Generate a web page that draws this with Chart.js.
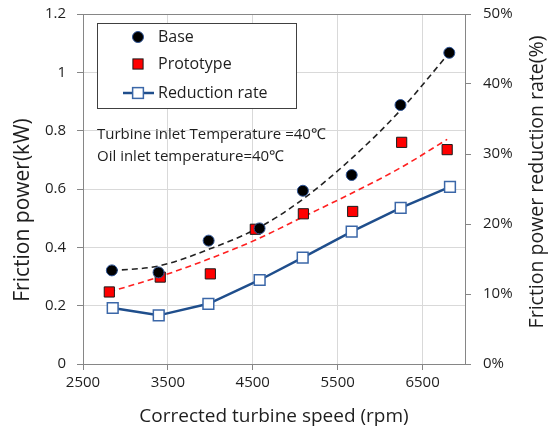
<!DOCTYPE html>
<html><head><meta charset="utf-8">
<script src="https://cdn.jsdelivr.net/npm/chart.js@4"></script>
<style>html,body{margin:0;padding:0;background:#fff}#wrap{width:551px;height:430px;position:relative}</style>
</head><body><div id="wrap"><canvas id="c"></canvas></div>
<script>
// ---- data ----
const baseSpeed     = [2840, 3390, 3980, 4580, 5090, 5665, 6240, 6815];
const basePower     = [0.321, 0.314, 0.423, 0.465, 0.594, 0.648, 0.888, 1.067];
const protoSpeed    = [2810, 3410, 4000, 4530, 5096, 5677, 6254, 6790];
const protoPower    = [0.247, 0.298, 0.309, 0.462, 0.515, 0.523, 0.760, 0.735];
const rateSpeed     = [2850, 3392, 3977, 4581, 5088, 5665, 6242, 6823];
const reductionRate = [8.0, 6.95, 8.6, 12.0, 15.2, 18.9, 22.3, 25.3];
const baseTrend     = [0.320, 0.336, 0.393, 0.469, 0.565, 0.705, 0.870, 1.067]; // dashed line, read at baseSpeed
const protoTrend    = [0.247, 0.300, 0.362, 0.425, 0.505, 0.587, 0.675, 0.770]; // dashed line, read at protoSpeed
const xTicks    = [2500, 3500, 4500, 5500, 6500];
const yTicks    = [0, 0.2, 0.4, 0.6, 0.8, 1, 1.2];
const rateTicks = [0, 10, 20, 30, 40, 50];
const seriesNames = ['Base', 'Prototype', 'Reduction rate'];
const notes = ['Turbine inlet Temperature =40\u2103', 'Oil inlet temperature=40\u2103'];
const xTitle = 'Corrected turbine speed (rpm)';
const yTitle = 'Friction power(kW)';
const y1Title = 'Friction power reduction rate(%)';

const FONT = "'Open Sans', sans-serif";
const TXT = '#1e1e1e';
const AXIS = '#868686';
const GRID = '#d9d9d9';
const pts = (xs, ys) => xs.map((x, i) => ({x, y: ys[i]}));

const decor = {
  id: 'decor',
  afterDraw(chart) {
    const ctx = chart.ctx, a = chart.chartArea;
    ctx.save();
    ctx.fillStyle = TXT;
    ctx.textBaseline = 'middle';
    // axis titles
    ctx.textAlign = 'center';
    ctx.font = `19px ${FONT}`;
    ctx.fillText(xTitle, (a.left + a.right) / 2, a.bottom + 53);
    ctx.save();
    ctx.translate(a.left - 60, a.top + 196);
    ctx.rotate(-Math.PI / 2);
    ctx.font = `21px ${FONT}`;
    ctx.fillText(yTitle, 0, 0);
    ctx.restore();
    ctx.save();
    ctx.translate(a.right + 72, (a.top + a.bottom) / 2 - 7);
    ctx.rotate(-Math.PI / 2);
    ctx.font = `19.5px ${FONT}`;
    ctx.fillText(y1Title, 0, 0);
    ctx.restore();
    // notes
    ctx.textAlign = 'left';
    ctx.font = `15px ${FONT}`;
    ctx.fillText(notes[0], a.left + 14, a.top + 121);
    ctx.fillText(notes[1], a.left + 14, a.top + 143);
    // legend box
    const lx = a.left + 14, ly = a.top + 9, lw = 199, lh = 85;
    ctx.fillStyle = '#fff';
    ctx.fillRect(lx, ly, lw, lh);
    ctx.strokeStyle = '#404040';
    ctx.lineWidth = 1;
    ctx.strokeRect(lx + 0.5, ly + 0.5, lw, lh);
    const ds = chart.data.datasets;
    const mx = lx + 41, tx = lx + 61;
    const rows = [ly + 14, ly + 41, ly + 70];
    // Base marker
    ctx.beginPath();
    ctx.arc(mx, rows[0], ds[0].pointRadius, 0, Math.PI * 2);
    ctx.fillStyle = ds[0].pointBackgroundColor; ctx.fill();
    ctx.strokeStyle = ds[0].pointBorderColor; ctx.lineWidth = 1; ctx.stroke();
    // Prototype marker
    let s = ds[1].pointRadius * Math.SQRT1_2;
    ctx.fillStyle = ds[1].pointBackgroundColor;
    ctx.fillRect(mx - s, rows[1] - s, 2 * s, 2 * s);
    ctx.strokeStyle = ds[1].pointBorderColor; ctx.lineWidth = 1;
    ctx.strokeRect(mx - s, rows[1] - s, 2 * s, 2 * s);
    // Reduction marker
    ctx.strokeStyle = ds[2].borderColor; ctx.lineWidth = ds[2].borderWidth;
    ctx.beginPath(); ctx.moveTo(mx - 15, rows[2]); ctx.lineTo(mx + 16, rows[2]); ctx.stroke();
    s = ds[2].pointRadius * Math.SQRT1_2;
    ctx.fillStyle = '#fff';
    ctx.fillRect(mx - s, rows[2] - s, 2 * s, 2 * s);
    ctx.strokeStyle = ds[2].pointBorderColor; ctx.lineWidth = ds[2].pointBorderWidth;
    ctx.strokeRect(mx - s, rows[2] - s, 2 * s, 2 * s);
    // legend texts
    ctx.fillStyle = TXT;
    ctx.font = `16px ${FONT}`;
    seriesNames.forEach((n, i) => ctx.fillText(n, tx, rows[i]));
    ctx.restore();
  }
};

new Chart(document.getElementById('c'), {
  type: 'scatter',
  data: {
    datasets: [
      { label: seriesNames[0], data: pts(baseSpeed, basePower), yAxisID: 'y', showLine: false,
        pointStyle: 'circle', pointRadius: 5.5, pointBackgroundColor: '#000', pointBorderColor: '#2F5597', pointBorderWidth: 1 },
      { label: seriesNames[1], data: pts(protoSpeed, protoPower), yAxisID: 'y', showLine: false,
        pointStyle: 'rect', pointRadius: 7.2, pointBackgroundColor: '#FF0000', pointBorderColor: '#1a1a1a', pointBorderWidth: 1 },
      { label: seriesNames[2], data: pts(rateSpeed, reductionRate), yAxisID: 'y1', showLine: true, tension: 0,
        borderColor: '#1F4E8C', borderWidth: 2.5,
        pointStyle: 'rect', pointRadius: 7.6, pointBackgroundColor: '#fff', pointBorderColor: '#3B67A8', pointBorderWidth: 1.5 },
      { label: 'Base trend', data: pts(baseSpeed, baseTrend), yAxisID: 'y', showLine: true,
        cubicInterpolationMode: 'monotone', borderColor: '#222', borderWidth: 1.6, borderDash: [6, 4], pointRadius: 0 },
      { label: 'Prototype trend', data: pts(protoSpeed, protoTrend), yAxisID: 'y', showLine: true,
        cubicInterpolationMode: 'monotone', borderColor: '#FF2020', borderWidth: 1.6, borderDash: [6, 4], pointRadius: 0 }
    ]
  },
  options: {
    responsive: true, maintainAspectRatio: false, animation: false,
    layout: { padding: { top: 14, left: 0, right: 0, bottom: 0 } },
    plugins: { legend: { display: false }, tooltip: { enabled: false } },
    scales: {
      x: {
        type: 'linear', min: 2500, max: 7000,
        afterBuildTicks: s => { s.ticks = xTicks.map(v => ({value: v})); },
        afterFit: s => { s.height = 66; s.paddingLeft = 0; s.paddingRight = 0; },
        ticks: { color: TXT, font: { family: FONT, size: 15 }, padding: 4, callback: v => String(v) },
        grid: { color: GRID, tickColor: AXIS, tickLength: 6 },
        border: { color: AXIS, width: 1 }
      },
      y: {
        position: 'left', min: 0, max: 1.2,
        afterBuildTicks: s => { s.ticks = yTicks.map(v => ({value: v})); },
        afterFit: s => { s.width = 83; s.paddingTop = 0; s.paddingBottom = 0; },
        ticks: { color: TXT, font: { family: FONT, size: 15 }, padding: 11, callback: v => String(v) },
        grid: { color: c => (c.index === yTicks.length - 1 ? AXIS : GRID), tickColor: AXIS, tickLength: 6 },
        border: { color: AXIS, width: 1 }
      },
      y1: {
        position: 'right', min: 0, max: 50,
        afterBuildTicks: s => { s.ticks = rateTicks.map(v => ({value: v})); },
        afterFit: s => { s.width = 86; s.paddingTop = 0; s.paddingBottom = 0; },
        ticks: { color: TXT, font: { family: FONT, size: 15 }, padding: 12, callback: v => v + '%' },
        grid: { drawOnChartArea: false, tickColor: AXIS, tickLength: 6 },
        border: { color: AXIS, width: 1 }
      }
    }
  },
  plugins: [decor]
});
</script>
</body></html>
